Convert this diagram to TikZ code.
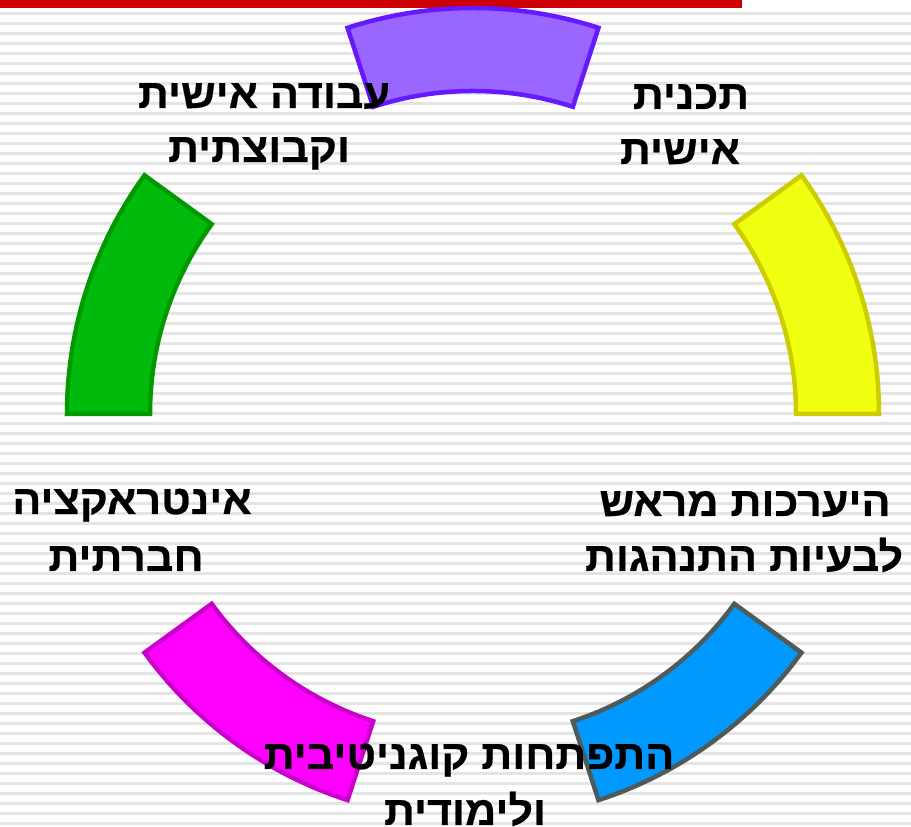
\documentclass[tikz,border=0pt]{standalone}
\usepackage{fontspec}
\usetikzlibrary{calc}
\newfontfamily\heb[Script=Hebrew,FakeStretch=1.05,BoldFeatures={FakeBold=0.6}]{Liberation Sans}
\TeXXeTstate=1
\definecolor{purplefill}{HTML}{9966FF}
\definecolor{purpleline}{HTML}{6619FF}
\definecolor{yellowfill}{HTML}{F0FF0F}
\definecolor{yellowline}{HTML}{CCCC00}
\definecolor{greenfill}{HTML}{00BB0B}
\definecolor{greenline}{HTML}{009900}
\definecolor{magentafill}{HTML}{FF00FF}
\definecolor{magentaline}{HTML}{CC00CC}
\definecolor{bluefill}{HTML}{0099FF}
\definecolor{blueline}{HTML}{4F5B5B}
\definecolor{stripegray}{HTML}{E4E4E4}
\definecolor{barred}{HTML}{CC0000}
\tikzset{
  stripe/.style={draw=stripegray, line width=2.2pt},
  segment/.style={line width=4.5pt, line join=miter},
  lbl/.style={font=\heb\bfseries\fontsize{41}{48}\selectfont, inner sep=0pt, anchor=base, text=black}
}
\begin{document}
\begin{tikzpicture}[x=1pt,y=1pt]
\useasboundingbox (0,0) rectangle (911,827);
\fill[white] (0,0) rectangle (911,827);
% background stripes
\foreach \k in {0,...,81} {
  \draw[stripe] (0,{827-13.5-10*\k}) -- (911,{827-13.5-10*\k});
}
% top red bar
\fill[barred] (0,819) rectangle (742,827);
% ring segments
\coordinate (C) at (473,413);
\def\rout{406pt}
\def\rin{323pt}
\foreach \a/\b/\f/\d in {72/108/purplefill/purpleline, 0/36/yellowfill/yellowline, 144/180/greenfill/greenline, 216/252/magentafill/magentaline, 288/324/bluefill/blueline} {
  \filldraw[segment, fill=\f, draw=\d] ($(C)+(\a:\rin)$) -- ($(C)+(\a:\rout)$) arc[start angle=\a, end angle=\b, radius=\rout] -- ($(C)+(\b:\rin)$) arc[start angle=\b, end angle=\a, radius=\rin] -- cycle;
}
% labels
\node[lbl] (t1a) at (264,{827-108}) {\beginR עבודה אישית\endR};
\node[lbl] (t1b) at (259,{827-162}) {\beginR וקבוצתית\endR};
\node[lbl] (t2a) at (691,{827-109}) {\beginR תכנית\endR};
\node[lbl] (t2b) at (680,{827-164}) {\beginR אישית\endR};
\node[lbl] (t3a) at (132,{827-514}) {\beginR אינטראקציה\endR};
\node[lbl] (t3b) at (126,{827-571}) {\beginR חברתית\endR};
\node[lbl] (t4a) at (745,{827-516}) {\beginR היערכות מראש\endR};
\node[lbl] (t4b) at (744,{827-571}) {\beginR לבעיות התנהגות\endR};
\node[lbl] (t5a) at (469,{827-769}) {\beginR התפתחות קוגניטיבית\endR};
\node[lbl] (t5b) at (465,{827-825}) {\beginR ולימודית\endR};
\end{tikzpicture}
\end{document}
